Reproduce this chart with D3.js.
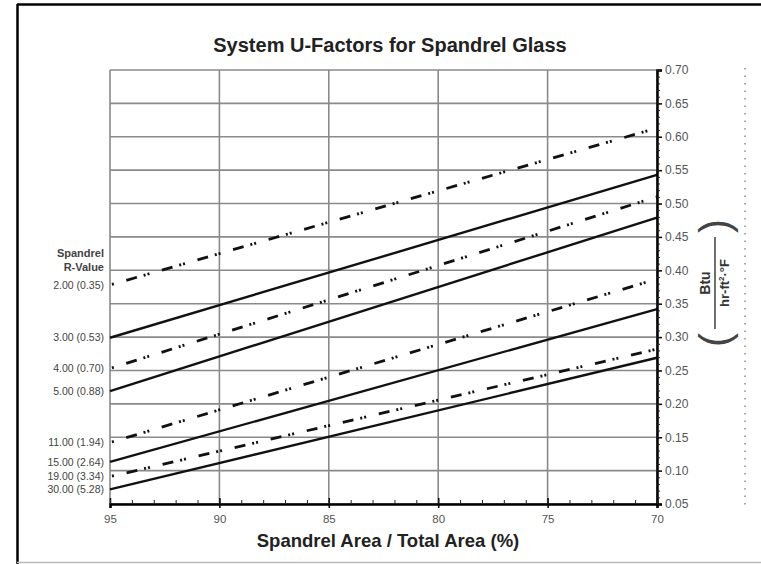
<!DOCTYPE html>
<html>
<head>
<meta charset="utf-8">
<script src="https://cdn.jsdelivr.net/npm/d3@7"></script>
<style>
  body { margin: 0; background: #fff; }
  svg { display: block; font-family: "Liberation Sans", Arial, sans-serif; }
</style>
</head>
<body>
<div id="chart"></div>
<script>
// spandrel R-values (label text), one line per value
var rLabels = ["2.00 (0.35)", "3.00 (0.53)", "4.00 (0.70)", "5.00 (0.88)",
               "11.00 (1.94)", "15.00 (2.64)", "19.00 (3.34)", "30.00 (5.28)"];
// spandrel area / total area (%) at the two ends of each line
var areaPct = [95, 70];
// system U-factor read at 95% and at 70%
var uAt95 = [0.378, 0.299, 0.253, 0.219, 0.142, 0.113, 0.091, 0.072];
var uAt70 = [0.613, 0.543, 0.510, 0.479, 0.387, 0.342, 0.282, 0.269];
// ticks
var xTickVals = [95, 90, 85, 80, 75, 70];
var yTickVals = [0.05, 0.10, 0.15, 0.20, 0.25, 0.30, 0.35, 0.40, 0.45, 0.50, 0.55, 0.60, 0.65, 0.70];

function init() {
    var w = 761, h = 564;
    var left = 110, right = 657, top = 70, bottom = 504;

    var svg = d3.select("#chart").append("svg")
        .attr("width", w)
        .attr("height", h);

    // outer frame
    svg.append("line").attr("x1", 17).attr("y1", 4.5).attr("x2", w).attr("y2", 4.5)
        .attr("stroke", "#000").attr("stroke-width", 2.5);
    svg.append("line").attr("x1", 17.5).attr("y1", 4).attr("x2", 17.5).attr("y2", h)
        .attr("stroke", "#000").attr("stroke-width", 2.5);
    svg.append("line").attr("x1", 17).attr("y1", 562.5).attr("x2", w).attr("y2", 562.5)
        .attr("stroke", "#bbb").attr("stroke-width", 1.5);

    var x = d3.scaleLinear().domain([95, 70]).range([left, right]);
    var y = d3.scaleLinear().domain([0.05, 0.70]).range([bottom, top]);

    // grid
    svg.append("g").selectAll("line").data(yTickVals).join("line")
        .attr("x1", left).attr("x2", right)
        .attr("y1", function(d) { return y(d); })
        .attr("y2", function(d) { return y(d); })
        .attr("stroke", "#8a8a8a").attr("stroke-width", 1.6);
    svg.append("g").selectAll("line").data(xTickVals).join("line")
        .attr("y1", top).attr("y2", bottom)
        .attr("x1", function(d) { return x(d); })
        .attr("x2", function(d) { return x(d); })
        .attr("stroke", "#8a8a8a").attr("stroke-width", 1.6);

    // lines
    var line = d3.line()
        .x(function(d) { return x(d.x); })
        .y(function(d) { return y(d.u); });

    var series = rLabels.map(function(lab, i) {
        return { label: lab, dashed: i % 2 === 0,
                 pts: [{ x: areaPct[0], u: uAt95[i] }, { x: areaPct[1], u: uAt70[i] }] };
    });

    svg.append("g").selectAll("path").data(series).join("path")
        .attr("d", function(d) { return line(d.pts); })
        .attr("fill", "none")
        .attr("stroke", "#111")
        .attr("stroke-width", function(d) { return d.dashed ? 2.8 : 2.4; })
        .attr("stroke-dasharray", function(d) { return d.dashed ? "11,7,2,2,2,13" : null; })
        .attr("stroke-dashoffset", function(d) { return d.dashed ? 20 : 0; });

    // left labels
    svg.append("g").selectAll("text").data(series).join("text")
        .attr("x", 104)
        .attr("y", function(d) { return y(d.pts[0].u); })
        .attr("dy", "0.35em")
        .attr("text-anchor", "end")
        .attr("font-size", 10.5)
        .attr("fill", "#444")
        .text(function(d) { return d.label; });

    svg.append("text").attr("x", 104).attr("y", 257).attr("text-anchor", "end")
        .attr("font-size", 11).attr("font-weight", "bold").attr("fill", "#444")
        .text("Spandrel");
    svg.append("text").attr("x", 104).attr("y", 271).attr("text-anchor", "end")
        .attr("font-size", 11).attr("font-weight", "bold").attr("fill", "#444")
        .text("R-Value");

    // right axis (major + minor)
    var yAxis = d3.axisRight(y).tickValues(yTickVals).tickSize(5).tickPadding(3)
        .tickFormat(d3.format(".2f"));
    var gy = svg.append("g").attr("transform", "translate(" + right + ",0)").call(yAxis);
    gy.select(".domain").attr("stroke", "#000").attr("stroke-width", 2.5);
    gy.selectAll(".tick line").attr("stroke", "#000").attr("stroke-width", 1.5);
    gy.selectAll("text").attr("font-size", 12).attr("fill", "#555")
        .attr("font-family", "Liberation Sans, Arial, sans-serif");

    var yMinor = d3.range(5, 71).map(function(v) { return v / 100; });
    svg.append("g").attr("transform", "translate(" + right + ",0)")
        .call(d3.axisRight(y).tickValues(yMinor).tickSize(3).tickFormat(""))
        .call(function(g) { g.select(".domain").remove(); })
        .selectAll(".tick line").attr("stroke", "#222").attr("stroke-width", 1);

    // bottom axis
    var xAxis = d3.axisBottom(x).tickValues(xTickVals).tickSize(4).tickPadding(7);
    var gx = svg.append("g").attr("transform", "translate(0," + bottom + ")").call(xAxis);
    gx.select(".domain").attr("stroke", "#000").attr("stroke-width", 2.5);
    gx.selectAll(".tick line").attr("stroke", "#000").attr("stroke-width", 1.5)
        .attr("y1", -6);
    gx.selectAll("text").attr("font-size", 11.5).attr("fill", "#555")
        .attr("font-family", "Liberation Sans, Arial, sans-serif");

    var xMinor = d3.range(70, 96);
    svg.append("g").attr("transform", "translate(0," + bottom + ")")
        .call(d3.axisBottom(x).tickValues(xMinor).tickSize(-4).tickFormat(""))
        .call(function(g) { g.select(".domain").remove(); })
        .selectAll(".tick line").attr("stroke", "#222").attr("stroke-width", 1);

    // title
    svg.append("text").attr("x", 390).attr("y", 52).attr("text-anchor", "middle")
        .attr("font-size", 20).attr("font-weight", "bold").attr("fill", "#222")
        .text("System U-Factors for Spandrel Glass");

    // x axis title
    svg.append("text").attr("x", 388).attr("y", 547).attr("text-anchor", "middle")
        .attr("font-size", 18.5).attr("font-weight", "bold").attr("fill", "#222")
        .text("Spandrel Area / Total Area (%)");

    // unit label on the right (rotated fraction in parentheses)
    var unit = svg.append("g").attr("transform", "translate(715,283) rotate(-90)");
    unit.append("text").attr("x", 0).attr("y", -5).attr("text-anchor", "middle")
        .attr("font-size", 14).attr("font-weight", "bold").attr("fill", "#333")
        .text("Btu");
    unit.append("line").attr("x1", -46).attr("x2", 46).attr("y1", 0).attr("y2", 0)
        .attr("stroke", "#333").attr("stroke-width", 1.4);
    var den = unit.append("text").attr("x", 0).attr("y", 14).attr("text-anchor", "middle")
        .attr("font-size", 13).attr("font-weight", "bold").attr("fill", "#333");
    den.append("tspan").text("hr-ft");
    den.append("tspan").attr("font-size", 8).attr("dy", -5).text("2");
    den.append("tspan").attr("dy", 5).text("\u00b7\u00b0F");
    unit.append("text").attr("x", -57).attr("y", 14).attr("text-anchor", "middle")
        .attr("font-size", 42).attr("font-weight", "normal").attr("fill", "#444")
        .text("(");
    unit.append("text").attr("x", 57).attr("y", 14).attr("text-anchor", "middle")
        .attr("font-size", 42).attr("font-weight", "normal").attr("fill", "#444")
        .text(")");

    // faint dotted column at far right
    svg.append("line").attr("x1", 745).attr("x2", 745).attr("y1", 68).attr("y2", 506)
        .attr("stroke", "#aaa").attr("stroke-width", 2).attr("stroke-dasharray", "1.5,6");
}

window.onload = init;
</script>
</body>
</html>
